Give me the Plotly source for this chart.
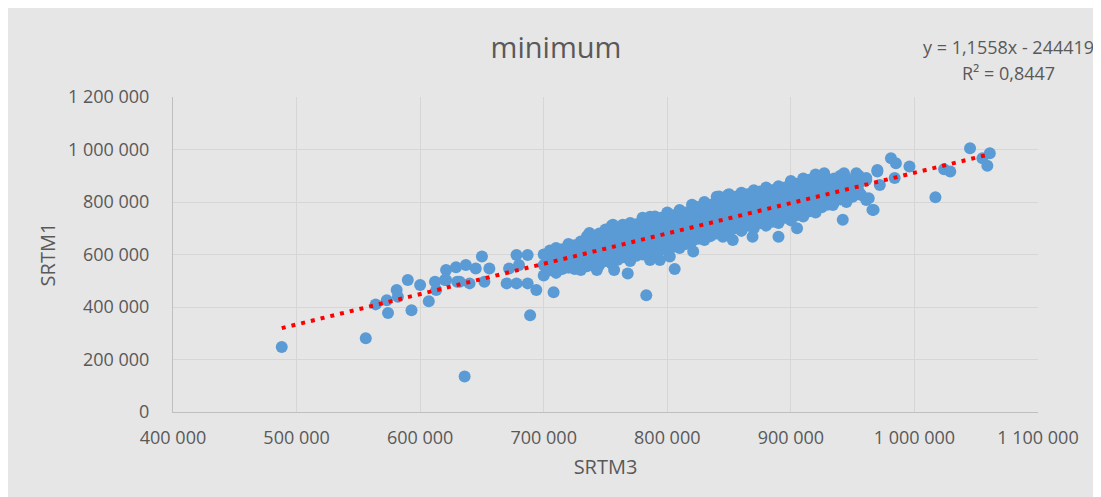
import plotly.graph_objects as go

# ---- data (thousands) ----
# sparse / outlying points: (SRTM3, SRTM1)
sparse_points_k = [
    (488, 248), (556, 281), (564, 410), (574, 377), (573, 426), (581, 465),
    (582, 439), (590, 503), (593, 388), (600, 484), (607, 422), (612, 496),
    (613, 465), (621, 541), (621, 503), (629, 551), (630, 496), (637, 560),
    (645, 547), (650, 592), (656, 547), (632, 496), (640, 490), (652, 496),
    (620, 503), (636, 135), (670, 490), (678, 490), (687, 490), (678, 598),
    (687, 598), (672, 547), (680, 560), (694, 465), (708, 456), (689, 369),
    (702, 553), (710, 541), (718, 553), (730, 541), (743, 541), (757, 541),
    (768, 528), (783, 445), (806, 545), (786, 579), (794, 579), (802, 592),
    (821, 611), (845, 668), (853, 655), (869, 668), (890, 668), (905, 700),
    (942, 732), (966, 770), (1017, 818), (1024, 925), (1029, 916),
    (1045, 1005), (1061, 986), (1059, 938), (1055, 967), (996, 935),
    (981, 967), (985, 948), (984, 891), (970, 916), (972, 865), (961, 884),
    (967, 770), (963, 814), (957, 827), (970, 922), (961, 891), (953, 910),
    (943, 910), (927, 910),
    (737, 682), (756, 713), (764, 713), (786, 744), (796, 739), (810, 757),
    (823, 782), (842, 821), (849, 827), (855, 795), (872, 834), (887, 846),
    (896, 853), (907, 846), (915, 884), (923, 782), (934, 789), (961, 808),
]

# dense band of points
band_points_k = [
    (700, 520), (700, 560), (700, 600),
    (705, 540), (705, 580), (705, 615),
    (710, 530), (710, 570), (710, 600), (710, 625),
    (715, 545), (715, 590), (715, 620),
    (720, 550), (720, 580), (720, 610), (720, 640),
    (725, 545), (725, 575), (725, 605), (725, 635),
    (730, 560), (730, 590), (730, 620), (730, 650),
    (735, 555), (735, 585), (735, 615), (735, 645), (735, 670),
    (740, 570), (740, 600), (740, 630), (740, 660),
    (745, 560), (745, 590), (745, 620), (745, 650), (745, 680),
    (750, 575), (750, 605), (750, 635), (750, 665), (750, 695),
    (755, 565), (755, 595), (755, 625), (755, 655), (755, 685), (755, 710),
    (760, 580), (760, 610), (760, 640), (760, 670), (760, 700),
    (765, 590), (765, 620), (765, 650), (765, 680), (765, 710),
    (770, 575), (770, 605), (770, 635), (770, 665), (770, 695), (770, 720),
    (775, 595), (775, 625), (775, 655), (775, 685), (775, 715),
    (780, 600), (780, 630), (780, 660), (780, 690), (780, 720), (780, 740),
    (785, 610), (785, 640), (785, 670), (785, 700), (785, 730),
    (790, 600), (790, 630), (790, 660), (790, 690), (790, 720), (790, 745),
    (795, 620), (795, 650), (795, 680), (795, 710), (795, 740),
    (800, 615), (800, 645), (800, 675), (800, 705), (800, 735), (800, 760),
    (805, 630), (805, 660), (805, 690), (805, 720), (805, 750),
    (810, 625), (810, 655), (810, 685), (810, 715), (810, 745), (810, 770),
    (815, 640), (815, 670), (815, 700), (815, 730), (815, 760),
    (820, 650), (820, 680), (820, 710), (820, 740), (820, 770), (820, 790),
    (825, 660), (825, 690), (825, 720), (825, 750), (825, 780),
    (830, 655), (830, 685), (830, 715), (830, 745), (830, 775), (830, 800),
    (835, 670), (835, 700), (835, 730), (835, 760), (835, 790),
    (840, 680), (840, 710), (840, 740), (840, 770), (840, 800), (840, 820),
    (845, 690), (845, 720), (845, 750), (845, 780), (845, 810),
    (850, 685), (850, 715), (850, 745), (850, 775), (850, 805), (850, 830),
    (855, 700), (855, 730), (855, 760), (855, 790), (855, 820),
    (860, 690), (860, 720), (860, 750), (860, 780), (860, 810), (860, 835),
    (865, 710), (865, 740), (865, 770), (865, 800), (865, 830),
    (870, 700), (870, 730), (870, 760), (870, 790), (870, 820), (870, 845),
    (875, 720), (875, 750), (875, 780), (875, 810), (875, 840),
    (880, 710), (880, 740), (880, 770), (880, 800), (880, 830), (880, 855),
    (885, 725), (885, 755), (885, 785), (885, 815), (885, 845),
    (890, 720), (890, 750), (890, 780), (890, 810), (890, 840), (890, 860),
    (895, 740), (895, 770), (895, 800), (895, 830), (895, 855),
    (900, 730), (900, 760), (900, 790), (900, 820), (900, 850), (900, 880),
    (905, 750), (905, 780), (905, 810), (905, 840), (905, 870),
    (910, 745), (910, 775), (910, 805), (910, 835), (910, 865), (910, 890),
    (915, 765), (915, 795), (915, 825), (915, 855), (915, 885),
    (920, 760), (920, 790), (920, 820), (920, 850), (920, 880), (920, 905),
    (925, 780), (925, 810), (925, 840), (925, 870),
    (930, 790), (930, 820), (930, 850), (930, 880),
    (935, 800), (935, 830), (935, 860), (935, 890),
    (940, 810), (940, 840), (940, 870), (940, 900),
    (945, 800), (945, 830), (945, 860), (945, 890),
    (950, 820), (950, 850), (950, 880),
    (955, 840), (955, 870), (955, 900),
]

# trendline coefficients shown on the chart
trend_slope = 1.1558
trend_intercept = -244419
trend_label = "y = 1,1558x - 244419"
r2_label = "R² = 0,8447"

x_ticks = [400000, 500000, 600000, 700000, 800000, 900000, 1000000, 1100000]
y_ticks = [0, 200000, 400000, 600000, 800000, 1000000, 1200000]

all_points = sparse_points_k + band_points_k
srtm3 = [p[0] * 1000 for p in all_points]
srtm1 = [p[1] * 1000 for p in all_points]

trend_x = [min(srtm3), max(srtm3)]
trend_y = [trend_slope * v + trend_intercept for v in trend_x]

FONT = "Open Sans, Liberation Sans, sans-serif"
TXT = "#595959"
BG = "#e6e6e6"
GRID = "#d6d6d6"

# figure sits in the page with an 8px body margin
FW, FH = 1093, 489
OFF = 8
# plot area in page pixels: x 173..1038, y 97..412
L, R, T, B = 173 - OFF, 1038 - OFF, 97 - OFF, 412 - OFF
W, H = R - L, B - T
def px(p):
    return (p - OFF - L) / W
def py(p):
    return (B - (p - OFF)) / H

fig = go.Figure()
fig.add_trace(go.Scatter(
    x=srtm3, y=srtm1, mode="markers",
    marker=dict(color="#5b9bd5", size=12, line=dict(width=0)),
    showlegend=False, hoverinfo="x+y",
))
fig.add_trace(go.Scatter(
    x=trend_x, y=trend_y, mode="lines",
    line=dict(color="#ff0000", width=4, dash="4px,6px"),
    showlegend=False, hoverinfo="skip",
))

fig.update_layout(
    width=FW, height=FH,
    margin=dict(l=L, r=FW - R, t=T, b=FH - B),
    paper_bgcolor=BG, plot_bgcolor=BG,
    separators=", ",
    font=dict(family=FONT, color=TXT, size=18),
    title=dict(text="minimum", x=px(556), xref="paper", xanchor="center",
               y=1 - (48 - OFF) / FH, yref="container", yanchor="middle",
               font=dict(family=FONT, size=29, color=TXT)),
    annotations=[
        dict(text=trend_label, xref="paper", yref="paper", x=px(1008), y=py(47),
             showarrow=False, xanchor="center", yanchor="middle",
             font=dict(family=FONT, size=18, color=TXT)),
        dict(text=r2_label, xref="paper", yref="paper", x=px(1008), y=py(73),
             showarrow=False, xanchor="center", yanchor="middle",
             font=dict(family=FONT, size=18, color=TXT)),
    ],
    xaxis=dict(
        range=[400000, 1100000], tickvals=x_ticks, tickformat=",d",
        showgrid=True, gridcolor=GRID, gridwidth=1,
        showline=True, linecolor="#bfbfbf", linewidth=1,
        zeroline=False, ticks="", ticklabelstandoff=9,
        tickfont=dict(family=FONT, size=18, color=TXT),
        title=dict(text="SRTM3", standoff=12,
                   font=dict(family=FONT, size=20, color=TXT)),
    ),
    yaxis=dict(
        range=[0, 1200000], tickvals=y_ticks, tickformat=",d",
        showgrid=True, gridcolor=GRID, gridwidth=1,
        showline=True, linecolor="#bfbfbf", linewidth=1,
        zeroline=False, ticks="", ticklabelstandoff=19,
        tickfont=dict(family=FONT, size=18, color=TXT),
        title=dict(text="SRTM1", standoff=6,
                   font=dict(family=FONT, size=20, color=TXT)),
    ),
)

fig.write_html("out.html")
